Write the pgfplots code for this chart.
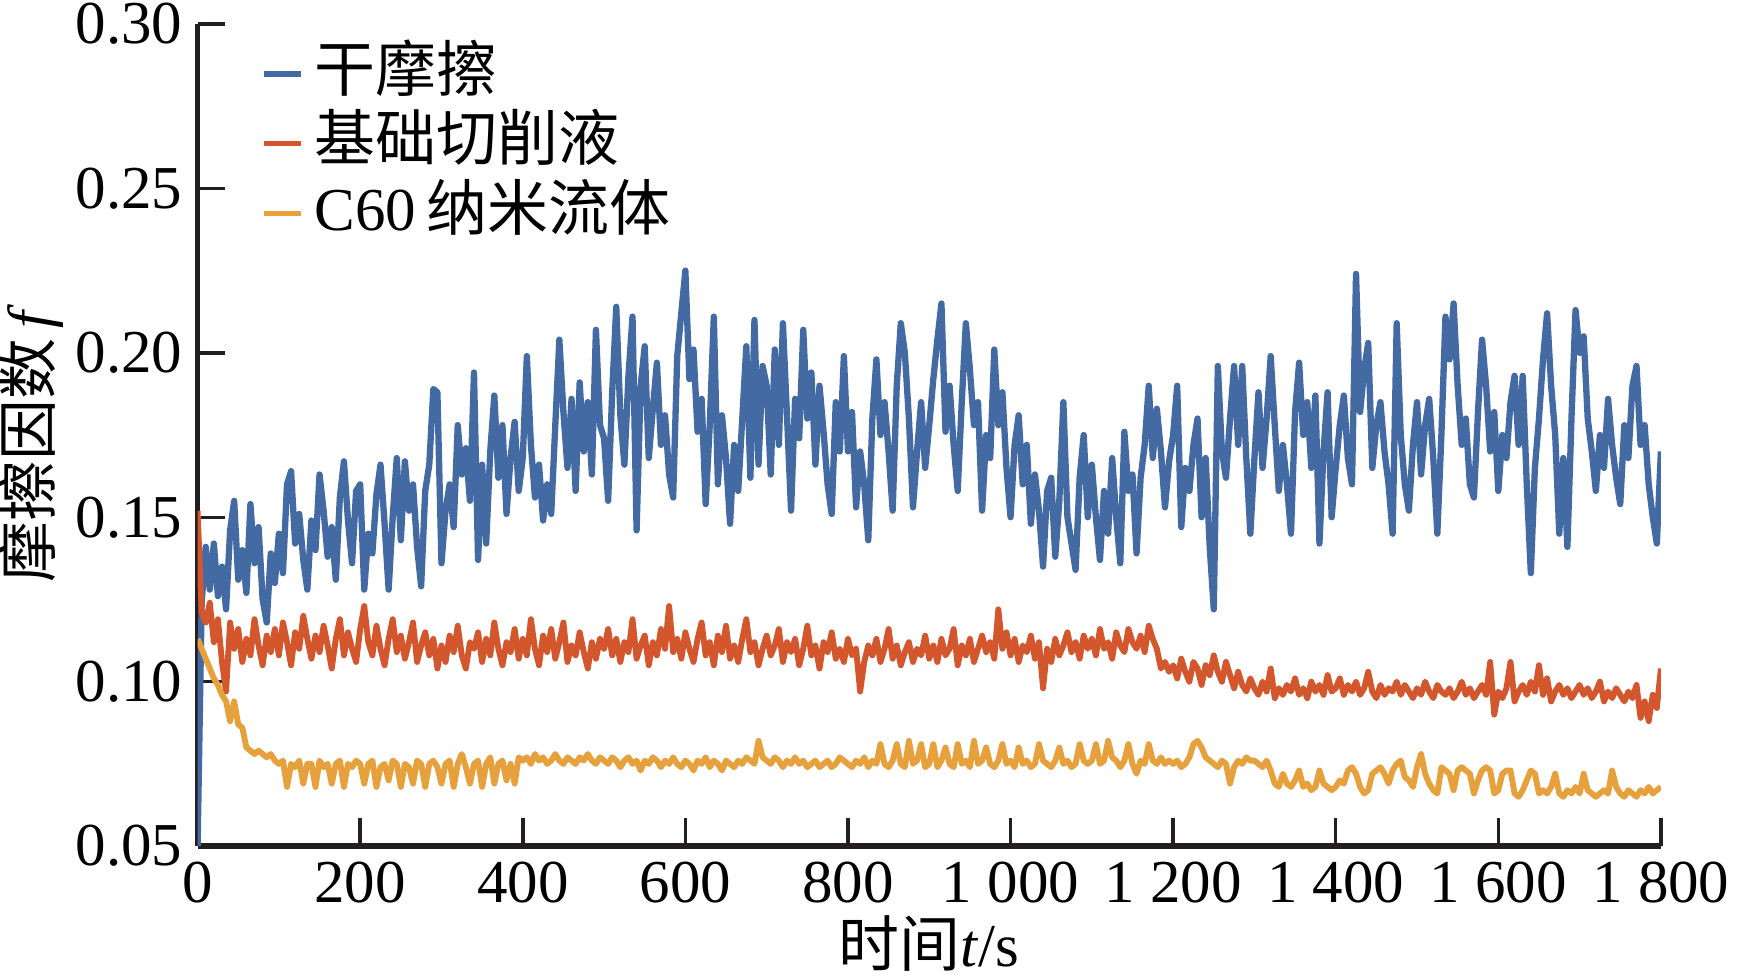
\documentclass[border=0pt]{standalone}
\usepackage{fontspec}
\setmainfont{Liberation Serif}
\newfontfamily\cjk{Noto Sans CJK SC}
\usepackage{pgfplots}
\pgfplotsset{compat=1.18}
\usepackage{pgfplotstable}
\definecolor{cb}{RGB}{68,106,164}
\definecolor{cr}{RGB}{211,86,44}
\definecolor{cy}{RGB}{230,161,61}
\definecolor{ax}{RGB}{35,31,32}

\pgfplotstableread[header=false,row sep=\\]{
0.050\\0.124\\0.141\\0.128\\0.142\\0.126\\0.135\\0.122\\0.146\\0.155\\0.131\\0.140\\0.127\\0.154\\0.136\\0.147\\0.125\\0.118\\0.139\\0.130\\
0.145\\0.133\\0.160\\0.164\\0.142\\0.151\\0.137\\0.128\\0.149\\0.140\\0.163\\0.152\\0.138\\0.147\\0.131\\0.156\\0.167\\0.149\\0.136\\0.158\\
0.160\\0.128\\0.145\\0.139\\0.157\\0.166\\0.148\\0.128\\0.150\\0.168\\0.143\\0.167\\0.152\\0.160\\0.141\\0.129\\0.158\\0.166\\0.189\\0.188\\
0.136\\0.152\\0.160\\0.147\\0.178\\0.163\\0.171\\0.155\\0.194\\0.137\\0.166\\0.142\\0.170\\0.187\\0.162\\0.178\\0.151\\0.168\\0.179\\0.158\\
0.168\\0.199\\0.172\\0.156\\0.166\\0.149\\0.160\\0.151\\0.178\\0.204\\0.182\\0.165\\0.186\\0.158\\0.191\\0.170\\0.185\\0.163\\0.207\\0.178\\
0.174\\0.155\\0.188\\0.214\\0.181\\0.166\\0.193\\0.211\\0.146\\0.190\\0.202\\0.168\\0.183\\0.197\\0.172\\0.181\\0.163\\0.156\\0.199\\0.212\\
0.225\\0.192\\0.201\\0.176\\0.186\\0.154\\0.178\\0.211\\0.160\\0.181\\0.168\\0.148\\0.172\\0.158\\0.180\\0.202\\0.162\\0.210\\0.166\\0.196\\
0.190\\0.163\\0.201\\0.172\\0.209\\0.181\\0.152\\0.186\\0.174\\0.207\\0.180\\0.194\\0.166\\0.190\\0.176\\0.160\\0.151\\0.185\\0.170\\0.199\\
0.170\\0.182\\0.153\\0.170\\0.160\\0.143\\0.180\\0.198\\0.175\\0.185\\0.170\\0.152\\0.190\\0.209\\0.200\\0.180\\0.153\\0.170\\0.185\\0.165\\
0.178\\0.192\\0.204\\0.215\\0.176\\0.190\\0.172\\0.158\\0.185\\0.209\\0.195\\0.178\\0.185\\0.152\\0.175\\0.168\\0.201\\0.178\\0.188\\0.165\\
0.150\\0.172\\0.181\\0.160\\0.172\\0.148\\0.163\\0.152\\0.135\\0.158\\0.162\\0.138\\0.155\\0.185\\0.150\\0.142\\0.134\\0.162\\0.175\\0.150\\
0.166\\0.150\\0.137\\0.158\\0.145\\0.168\\0.150\\0.136\\0.176\\0.158\\0.163\\0.139\\0.162\\0.172\\0.190\\0.168\\0.183\\0.170\\0.153\\0.167\\
0.175\\0.190\\0.147\\0.165\\0.158\\0.172\\0.180\\0.150\\0.168\\0.141\\0.122\\0.196\\0.170\\0.162\\0.180\\0.196\\0.172\\0.196\\0.168\\0.145\\
0.168\\0.188\\0.165\\0.180\\0.199\\0.178\\0.158\\0.172\\0.160\\0.145\\0.182\\0.197\\0.175\\0.185\\0.165\\0.187\\0.142\\0.170\\0.188\\0.150\\
0.165\\0.178\\0.187\\0.168\\0.160\\0.224\\0.182\\0.195\\0.203\\0.165\\0.178\\0.185\\0.170\\0.160\\0.145\\0.209\\0.175\\0.160\\0.152\\0.172\\
0.185\\0.163\\0.178\\0.186\\0.168\\0.145\\0.175\\0.211\\0.198\\0.215\\0.190\\0.172\\0.180\\0.160\\0.156\\0.182\\0.204\\0.190\\0.170\\0.182\\
0.158\\0.175\\0.168\\0.185\\0.193\\0.172\\0.193\\0.160\\0.133\\0.165\\0.180\\0.198\\0.212\\0.190\\0.175\\0.145\\0.168\\0.141\\0.180\\0.213\\
0.200\\0.205\\0.180\\0.170\\0.158\\0.175\\0.165\\0.186\\0.172\\0.162\\0.154\\0.178\\0.168\\0.190\\0.196\\0.172\\0.178\\0.160\\0.150\\0.142\\
0.170\\
}\dryf

\pgfplotstableread[header=false,row sep=\\]{
0.152\\0.121\\0.118\\0.124\\0.112\\0.119\\0.106\\0.097\\0.118\\0.110\\0.116\\0.106\\0.113\\0.108\\0.119\\0.111\\0.105\\0.114\\0.109\\0.116\\
0.108\\0.118\\0.112\\0.105\\0.115\\0.110\\0.120\\0.113\\0.107\\0.114\\0.109\\0.117\\0.111\\0.104\\0.113\\0.119\\0.108\\0.115\\0.110\\0.106\\
0.116\\0.123\\0.112\\0.108\\0.117\\0.110\\0.105\\0.113\\0.119\\0.109\\0.114\\0.107\\0.112\\0.118\\0.106\\0.111\\0.115\\0.108\\0.113\\0.104\\
0.111\\0.106\\0.114\\0.109\\0.117\\0.108\\0.104\\0.112\\0.110\\0.115\\0.106\\0.113\\0.108\\0.118\\0.110\\0.105\\0.112\\0.109\\0.116\\0.107\\
0.113\\0.108\\0.119\\0.110\\0.105\\0.114\\0.109\\0.116\\0.107\\0.112\\0.118\\0.106\\0.111\\0.108\\0.115\\0.109\\0.104\\0.112\\0.107\\0.113\\
0.110\\0.116\\0.108\\0.113\\0.106\\0.112\\0.109\\0.119\\0.107\\0.111\\0.114\\0.105\\0.112\\0.108\\0.116\\0.110\\0.123\\0.109\\0.113\\0.107\\
0.115\\0.110\\0.106\\0.113\\0.118\\0.108\\0.112\\0.105\\0.114\\0.109\\0.117\\0.107\\0.111\\0.106\\0.113\\0.119\\0.109\\0.112\\0.105\\0.110\\
0.114\\0.108\\0.111\\0.116\\0.106\\0.112\\0.109\\0.113\\0.105\\0.110\\0.117\\0.108\\0.111\\0.104\\0.112\\0.109\\0.115\\0.107\\0.110\\0.106\\
0.113\\0.108\\0.110\\0.097\\0.106\\0.111\\0.108\\0.113\\0.106\\0.110\\0.116\\0.107\\0.111\\0.105\\0.109\\0.112\\0.106\\0.110\\0.108\\0.114\\
0.107\\0.111\\0.106\\0.113\\0.108\\0.110\\0.116\\0.105\\0.111\\0.108\\0.113\\0.106\\0.110\\0.114\\0.109\\0.112\\0.107\\0.122\\0.110\\0.115\\
0.108\\0.113\\0.106\\0.111\\0.109\\0.114\\0.107\\0.112\\0.098\\0.110\\0.106\\0.113\\0.108\\0.111\\0.115\\0.109\\0.112\\0.107\\0.114\\0.110\\
0.113\\0.108\\0.116\\0.110\\0.112\\0.107\\0.115\\0.111\\0.109\\0.116\\0.112\\0.110\\0.114\\0.109\\0.117\\0.113\\0.110\\0.104\\0.106\\0.103\\
0.105\\0.101\\0.107\\0.103\\0.100\\0.106\\0.104\\0.099\\0.105\\0.102\\0.108\\0.103\\0.100\\0.106\\0.102\\0.098\\0.103\\0.099\\0.097\\0.101\\
0.098\\0.096\\0.100\\0.097\\0.104\\0.095\\0.098\\0.096\\0.099\\0.097\\0.101\\0.096\\0.098\\0.095\\0.100\\0.097\\0.099\\0.096\\0.102\\0.097\\
0.098\\0.101\\0.096\\0.099\\0.097\\0.100\\0.096\\0.098\\0.103\\0.097\\0.095\\0.099\\0.096\\0.098\\0.097\\0.100\\0.096\\0.099\\0.097\\0.095\\
0.098\\0.096\\0.100\\0.097\\0.095\\0.099\\0.097\\0.096\\0.098\\0.095\\0.097\\0.100\\0.096\\0.098\\0.095\\0.097\\0.099\\0.096\\0.106\\0.090\\
0.097\\0.095\\0.098\\0.106\\0.094\\0.097\\0.099\\0.096\\0.100\\0.097\\0.105\\0.096\\0.101\\0.094\\0.097\\0.099\\0.096\\0.098\\0.095\\0.097\\
0.099\\0.096\\0.098\\0.095\\0.097\\0.100\\0.094\\0.097\\0.095\\0.098\\0.096\\0.094\\0.097\\0.095\\0.099\\0.089\\0.094\\0.088\\0.096\\0.092\\
0.104\\
}\basef

\pgfplotstableread[header=false,row sep=\\]{
0.113\\0.110\\0.107\\0.104\\0.101\\0.099\\0.096\\0.094\\0.088\\0.094\\0.087\\0.086\\0.080\\0.079\\0.078\\0.079\\0.078\\0.077\\0.078\\0.076\\
0.075\\0.076\\0.068\\0.075\\0.074\\0.076\\0.069\\0.075\\0.075\\0.068\\0.076\\0.074\\0.075\\0.069\\0.075\\0.076\\0.068\\0.075\\0.074\\0.076\\
0.075\\0.069\\0.075\\0.076\\0.068\\0.074\\0.075\\0.070\\0.076\\0.075\\0.068\\0.075\\0.074\\0.069\\0.076\\0.075\\0.068\\0.075\\0.076\\0.074\\
0.069\\0.075\\0.076\\0.068\\0.075\\0.078\\0.074\\0.069\\0.075\\0.076\\0.068\\0.075\\0.077\\0.069\\0.075\\0.076\\0.070\\0.075\\0.069\\0.077\\
0.076\\0.077\\0.075\\0.078\\0.076\\0.077\\0.075\\0.076\\0.078\\0.076\\0.075\\0.077\\0.076\\0.075\\0.077\\0.076\\0.078\\0.076\\0.075\\0.077\\
0.076\\0.075\\0.077\\0.076\\0.074\\0.076\\0.077\\0.075\\0.076\\0.073\\0.076\\0.075\\0.077\\0.076\\0.074\\0.076\\0.075\\0.077\\0.075\\0.074\\
0.076\\0.075\\0.073\\0.076\\0.075\\0.077\\0.074\\0.076\\0.075\\0.073\\0.076\\0.075\\0.074\\0.076\\0.075\\0.077\\0.076\\0.075\\0.082\\0.077\\
0.076\\0.075\\0.077\\0.076\\0.074\\0.076\\0.075\\0.077\\0.075\\0.076\\0.074\\0.075\\0.076\\0.074\\0.075\\0.076\\0.074\\0.075\\0.077\\0.076\\
0.075\\0.074\\0.076\\0.075\\0.077\\0.074\\0.076\\0.075\\0.081\\0.075\\0.074\\0.076\\0.081\\0.075\\0.074\\0.082\\0.075\\0.076\\0.081\\0.074\\
0.075\\0.081\\0.074\\0.076\\0.080\\0.075\\0.074\\0.081\\0.075\\0.076\\0.074\\0.082\\0.075\\0.076\\0.080\\0.075\\0.074\\0.076\\0.081\\0.075\\
0.076\\0.074\\0.080\\0.075\\0.076\\0.074\\0.075\\0.081\\0.076\\0.075\\0.074\\0.076\\0.080\\0.075\\0.076\\0.074\\0.075\\0.081\\0.076\\0.075\\
0.076\\0.081\\0.075\\0.076\\0.082\\0.077\\0.076\\0.074\\0.076\\0.081\\0.075\\0.072\\0.076\\0.075\\0.081\\0.076\\0.075\\0.077\\0.075\\0.076\\
0.075\\0.076\\0.074\\0.075\\0.077\\0.081\\0.082\\0.080\\0.077\\0.076\\0.075\\0.074\\0.076\\0.075\\0.069\\0.074\\0.076\\0.075\\0.077\\0.076\\
0.076\\0.075\\0.074\\0.076\\0.073\\0.069\\0.068\\0.072\\0.069\\0.068\\0.070\\0.073\\0.068\\0.069\\0.067\\0.068\\0.073\\0.069\\0.068\\0.067\\
0.068\\0.070\\0.069\\0.073\\0.074\\0.072\\0.068\\0.066\\0.067\\0.072\\0.073\\0.074\\0.072\\0.069\\0.073\\0.075\\0.076\\0.071\\0.070\\0.068\\
0.074\\0.078\\0.072\\0.069\\0.067\\0.066\\0.074\\0.073\\0.072\\0.067\\0.073\\0.074\\0.073\\0.072\\0.066\\0.070\\0.073\\0.074\\0.073\\0.066\\
0.067\\0.072\\0.073\\0.073\\0.066\\0.065\\0.067\\0.070\\0.073\\0.072\\0.066\\0.067\\0.066\\0.068\\0.072\\0.066\\0.065\\0.067\\0.066\\0.068\\
0.066\\0.072\\0.067\\0.066\\0.065\\0.066\\0.067\\0.066\\0.073\\0.068\\0.066\\0.065\\0.067\\0.066\\0.065\\0.067\\0.066\\0.068\\0.066\\0.067\\
0.068\\
}\nanof

\begin{document}
\begin{tikzpicture}
\useasboundingbox (-45.4pt,-30.5pt) rectangle (354.6pt,194.4pt);
\begin{axis}[
  at={(0,0)}, anchor=south west,
  scale only axis, width=336.2pt, height=188.9pt,
  xmin=0, xmax=1800, ymin=0.05, ymax=0.30,
  axis x line=bottom, axis y line=left,
  x axis line style={-, line width=1.5pt, ax},
  y axis line style={-, line width=1.1pt, ax},
  xtick={0,200,400,600,800,1000,1200,1400,1600,1800},
  xticklabels={0,200,400,600,800,1 000,1 200,1 400,1 600,1 800},
  ytick={0.05,0.10,0.15,0.20,0.25,0.30},
  yticklabels={0.05,0.10,0.15,0.20,0.25,0.30},
  tick align=inside, major tick length=6.4pt,
  tick style={line width=0.8pt, ax},
  ticklabel style={font=\fontsize{14pt}{16pt}\selectfont, text=black},
  xlabel={{\cjk 时间}\textit{t}/s},
  ylabel={{\cjk 摩擦因数}\,\textit{f}},
  label style={font=\fontsize{14pt}{16pt}\selectfont},
  x label style={at={(axis description cs:0.5,-0.118)}, anchor=center},
  y label style={at={(axis description cs:-0.114,0.49)}, anchor=center},
  legend style={at={(axis description cs:0.043,0.972)}, anchor=north west,
    draw=none, fill=none, inner sep=0pt, row sep=4pt, column sep=2.5pt,
    font=\fontsize{14pt}{16pt}\selectfont,
    nodes={inner sep=0pt, text height=10pt, text depth=2pt}},
  legend cell align=left,
  legend image code/.code={\draw[#1, line width=1.2pt] (0pt,0pt) -- (8.5pt,0pt);},
  every axis plot/.append style={line join=round},
]
\addplot[cb, line width=1.45pt] table[x expr=\coordindex*5, y index=0] {\dryf};
\addlegendentry{{\cjk 干摩擦}}
\addplot[cr, line width=1.35pt] table[x expr=\coordindex*5, y index=0] {\basef};
\addlegendentry{{\cjk 基础切削液}}
\addplot[cy, line width=1.35pt] table[x expr=\coordindex*5, y index=0] {\nanof};
\addlegendentry{C60\,{\cjk 纳米流体}}
\end{axis}
\end{tikzpicture}
\end{document}
